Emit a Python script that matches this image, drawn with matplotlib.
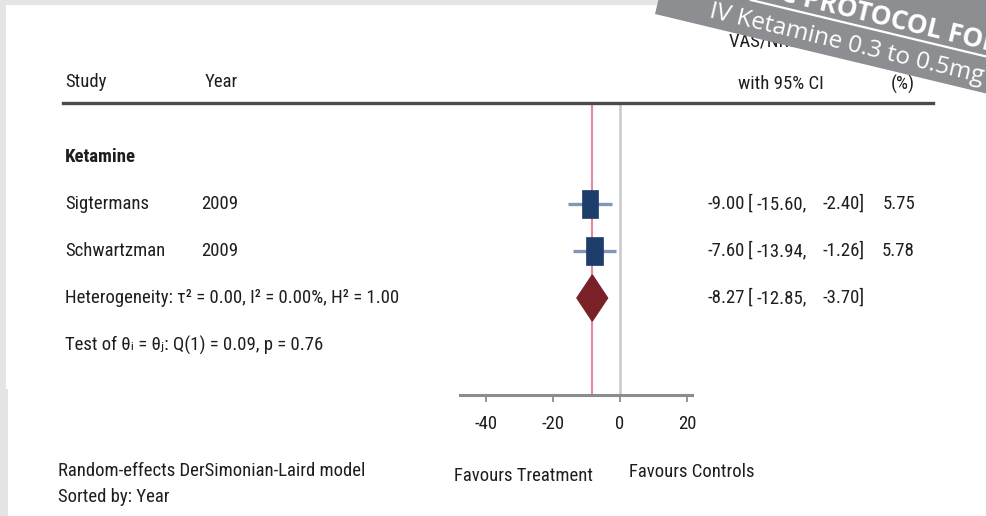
import matplotlib
matplotlib.use("Agg")

import numpy as np
import matplotlib.pyplot as plt
from matplotlib import font_manager
from matplotlib.patches import Rectangle, Polygon
from matplotlib.lines import Line2D
from matplotlib.transforms import blended_transform_factory

# ---- data ----
studies = ["Sigtermans", "Schwartzman"]
years = ["2009", "2009"]
effects = [-9.00, -7.60]
ci_low = [-15.60, -13.94]
ci_high = [-2.40, -1.26]
weights = ["5.75", "5.78"]

overall_effect = -8.27
overall_low = -12.85
overall_high = -3.70

group_label = "Ketamine"
heterogeneity = "Heterogeneity: \u03c4\u00b2 = 0.00, I\u00b2 = 0.00%, H\u00b2 = 1.00"
test_text = "Test of \u03b8\u1d62 = \u03b8\u2c7c: Q(1) = 0.09, p = 0.76"
xticks = [-40, -20, 0, 20]

# ---- style ----
W, H = 986, 516
TXT = "#1e1e1e"

# the reference text is a narrow Helvetica; use a narrow face if one is installed
installed = {f.name for f in font_manager.fontManager.ttflist}
narrow = [n for n in ["Liberation Sans Narrow", "Roboto Condensed", "Arial Narrow"] if n in installed]
if narrow:
    FONT = [narrow[0], "DejaVu Sans"]
    FS = 13.5
else:
    FONT = ["Liberation Sans", "DejaVu Sans"]
    FS = 11.5
plt.rcParams["font.family"] = FONT
plt.rcParams["axes.unicode_minus"] = False


def fx(x):
    return x / W


def fy(y_img):
    return 1 - y_img / H


fig = plt.figure(figsize=(W / 100, H / 100), dpi=100)
fig.patch.set_facecolor("#e6e5e6")

# white page (screenshot is stitched, lower part slightly offset)
fig.add_artist(Rectangle((fx(6), fy(389)), 1, fy(5) - fy(389), transform=fig.transFigure,
                         facecolor="white", edgecolor="none", zorder=0))
fig.add_artist(Rectangle((fx(8), 0), 1, fy(389), transform=fig.transFigure,
                         facecolor="white", edgecolor="none", zorder=0))

# forest panel: x in effect units, y in row index (0 = group label)
ax_left, ax_right = 459.8, 692.4
ax_top, ax_bot = 103, 394.6
ax = fig.add_axes([fx(ax_left), fy(ax_bot), fx(ax_right - ax_left), fy(ax_top) - fy(ax_bot)])
ax.set_facecolor("none")
ax.set_xlim(-47.8, 21.6)
ax.set_ylim(5.055, -1.149)
for side in ["top", "left", "right"]:
    ax.spines[side].set_visible(False)
ax.spines["bottom"].set_color("#8c8c8c")
ax.spines["bottom"].set_linewidth(2.2)
ax.set_yticks([])
ax.set_xticks(xticks)
ax.set_xticklabels([str(t) for t in xticks])
ax.tick_params(axis="x", colors="#8c8c8c", length=5, width=1.3, pad=10,
               labelsize=FS, labelcolor=TXT)

ax.axvline(0, color="#c8c8c8", lw=1.8, zorder=1)
ax.axvline(overall_effect, color="#e08aa0", lw=1.5, zorder=1)

box_w, box_h = 4.8, 0.6
rows = np.arange(1, len(studies) + 1)
for k, e, lo, hi in zip(rows, effects, ci_low, ci_high):
    ax.plot([lo, hi], [k, k], color="#8396b8", lw=2.4, solid_capstyle="butt", zorder=2)
    ax.add_patch(Rectangle((e - box_w / 2, k - box_h / 2), box_w, box_h,
                           facecolor="#1d3d6b", edgecolor="#1d3d6b", lw=0.5, zorder=3))

k_all = len(studies) + 1
dh = 0.49
ax.add_patch(Polygon([(overall_low, k_all), (overall_effect, k_all - dh),
                      (overall_high, k_all), (overall_effect, k_all + dh)],
                     closed=True, facecolor="#7a2027", edgecolor="#7a2027", zorder=3))

# ---- text columns ----
tr = blended_transform_factory(fig.transFigure, ax.transData)
kw = dict(transform=tr, fontsize=FS, color=TXT, va="center")

ax.text(fx(65), 0, group_label, fontweight="bold", **kw)
for k, s, yr, e, lo, hi, w in zip(rows, studies, years, effects, ci_low, ci_high, weights):
    ax.text(fx(65), k, s, **kw)
    ax.text(fx(201), k, yr, **kw)
    ax.text(fx(745), k, f"{e:.2f}", ha="right", **kw)
    ax.text(fx(748), k, "[", **kw)
    ax.text(fx(807), k, f"{lo:.2f},", ha="right", **kw)
    ax.text(fx(865), k, f"{hi:.2f}]", ha="right", **kw)
    ax.text(fx(915), k, w, ha="right", **kw)

ax.text(fx(65), k_all, heterogeneity, **kw)
ax.text(fx(745), k_all, f"{overall_effect:.2f}", ha="right", **kw)
ax.text(fx(748), k_all, "[", **kw)
ax.text(fx(807), k_all, f"{overall_low:.2f},", ha="right", **kw)
ax.text(fx(865), k_all, f"{overall_high:.2f}]", ha="right", **kw)
ax.text(fx(65), k_all + 1, test_text, **kw)

# header
hk = dict(fontsize=FS, color=TXT, va="center", transform=fig.transFigure)
fig.text(fx(65), fy(82), "Study", **hk)
fig.text(fx(205), fy(82), "Year", **hk)
fig.text(fx(781), fy(42), "VAS/NRS diff.", ha="center", **hk)
fig.text(fx(781), fy(84), "with 95% CI", ha="center", **hk)
fig.text(fx(903), fy(42), "Weight", ha="center", **hk)
fig.text(fx(903), fy(84), "(%)", ha="center", **hk)
fig.add_artist(Line2D([fx(63), fx(933)], [fy(103), fy(103)], transform=fig.transFigure,
                      color="#4a4a4a", lw=2.4))

# footer
fig.text(fx(524), fy(476), "Favours Treatment", ha="center", **hk)
fig.text(fx(692), fy(472), "Favours Controls", ha="center", **hk)
fig.text(fx(58), fy(471), "Random-effects DerSimonian-Laird model", **hk)
fig.text(fx(58), fy(497), "Sorted by: Year", **hk)

# ---- slide banner over the top-right corner ----
deg = -13.5
ang = np.deg2rad(deg)
u = np.array([np.cos(ang), np.sin(ang)])
v = np.array([-np.sin(ang), np.cos(ang)])
o = np.array([655.0, H - 14.0])
L, T = 520, 110
corners = [o, o + L * u, o + L * u + T * v, o + T * v]
fig.add_artist(Polygon([(c[0] / W, c[1] / H) for c in corners], closed=True,
                       transform=fig.transFigure, facecolor="#8d8e91", edgecolor="none", zorder=5))

banner_font = ["Open Sans", "DejaVu Sans"]
p1 = o + 53 * u + 9 * v
fig.text(p1[0] / W, p1[1] / H, "IV Ketamine 0.3 to 0.5mg", family=banner_font,
         fontsize=17.5, color="white", rotation=deg, rotation_mode="anchor",
         ha="left", va="baseline", zorder=6)
p2 = o + 342 * u + 42 * v
fig.text(p2[0] / W, p2[1] / H, "ANALGESIC PROTOCOL FOR", family=banner_font,
         fontsize=19, fontweight="bold", color="white", rotation=deg, rotation_mode="anchor",
         ha="right", va="baseline", zorder=6)
ul0 = o + 90 * u + 36 * v
ul1 = o + 420 * u + 36 * v
fig.add_artist(Line2D([ul0[0] / W, ul1[0] / W], [ul0[1] / H, ul1[1] / H], transform=fig.transFigure,
                      color="white", lw=1.6, zorder=6))

fig.savefig("out.png", dpi=100)
